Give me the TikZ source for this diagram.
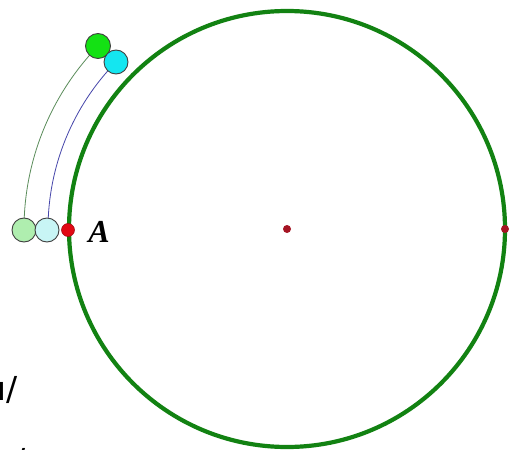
\documentclass[tikz,border=0pt]{standalone}
\usepackage{fontspec}
\setmainfont{Liberation Serif}
\newfontfamily\sansf{DejaVu Sans}
\definecolor{bigGreen}{RGB}{18,130,18}
\definecolor{ballGreen}{RGB}{20,225,20}
\definecolor{ballCyan}{RGB}{20,230,240}
\definecolor{paleGreen}{RGB}{175,238,175}
\definecolor{paleCyan}{RGB}{200,245,245}
\definecolor{ptRed}{RGB}{225,10,20}
\definecolor{dotRed}{RGB}{165,20,35}
\definecolor{traceGreen}{RGB}{90,140,90}
\definecolor{traceBlue}{RGB}{70,70,170}
\begin{document}
\begin{tikzpicture}[x=1pt,y=-1pt,
  ball/.style={circle,draw=black!75,line width=0.9pt,inner sep=0pt,minimum size=24pt},
  dotpt/.style={circle,fill=dotRed,inner sep=0pt,minimum size=8pt},
  trace/.style={line width=0.8pt}]
\useasboundingbox (0,0) rectangle (510,449);
\fill[white] (0,0) rectangle (510,449);
\coordinate (O) at (287,229);
% big circle
\draw[bigGreen,line width=4.2pt] (O) circle[radius=218];
% traces (concentric arcs)
\draw[trace,traceGreen] (24,229) arc[start angle=180,end angle=224.3,radius=263];
\draw[trace,traceBlue] (48,229) arc[start angle=180,end angle=224.5,radius=239];
% balls
\node[ball,fill=paleGreen] (g0) at (24,230) {};
\node[ball,fill=paleCyan] (c0) at (47,230) {};
\node[circle,fill=ptRed,draw=ptRed!70!black,line width=0.5pt,inner sep=0pt,minimum size=13pt] (A) at (68,230) {};
\node[ball,fill=ballGreen,minimum size=25pt] (g1) at (98,46) {};
\node[ball,fill=ballCyan] (c1) at (116,62) {};
\node[font=\fontsize{32}{32}\selectfont\bfseries\itshape,anchor=base] (lblA) at (99,242) {A};
% dots
\node[dotpt] (ctr) at (O) {};
\node[dotpt] (rp) at (505,229) {};
% clipped text fragments
\node[font=\sansf\fontsize{33}{33}\selectfont,anchor=base west,inner sep=0pt] (frag) at (-15,400) {u/};
\node[font=\sansf\fontsize{33}{33}\selectfont,anchor=base west,inner sep=0pt] (frag2) at (14,472) {/};
\end{tikzpicture}
\end{document}
